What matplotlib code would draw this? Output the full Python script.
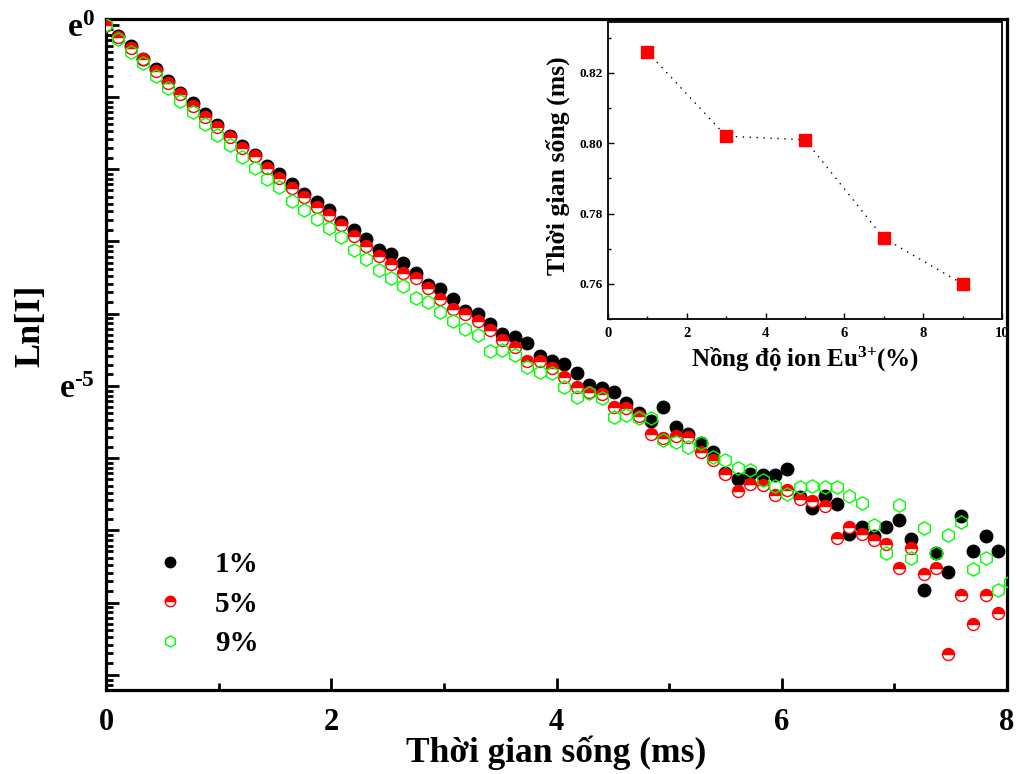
import numpy as np
import matplotlib
matplotlib.use("Agg")
import matplotlib.pyplot as plt
from matplotlib.ticker import FixedLocator, FuncFormatter, NullFormatter, MultipleLocator
from matplotlib.lines import Line2D

plt.rcParams["font.family"] = ["Liberation Serif", "DejaVu Serif"]
plt.rcParams["font.weight"] = "bold"
plt.rcParams["mathtext.fontset"] = "custom"
plt.rcParams["mathtext.rm"] = "Liberation Serif:bold"
plt.rcParams["mathtext.it"] = "Liberation Serif:bold"
plt.rcParams["mathtext.bf"] = "Liberation Serif:bold"

# Decay curves, ln(I) sampled every 0.11 ms
dt = 0.11
ln_eu1 = [0.00, -0.15, -0.30, -0.47, -0.61, -0.78, -0.94, -1.08, -1.24, -1.39,
          -1.54, -1.68, -1.80, -1.95, -2.07, -2.20, -2.34, -2.46, -2.57, -2.73,
          -2.84, -2.97, -3.12, -3.18, -3.30, -3.43, -3.60, -3.66, -3.80, -3.96,
          -4.00, -4.14, -4.28, -4.32, -4.41, -4.59, -4.65, -4.70, -4.82, -4.99,
          -5.03, -5.08, -5.23, -5.37, -5.49, -5.29, -5.57, -5.67, -5.79, -5.91,
          -6.20, -6.29, -6.22, -6.24, -6.23, -6.15, -6.54, -6.69, -6.53, -6.63,
          -7.05, -6.95, -7.08, -6.95, -6.85, -7.12, -7.82, -7.31, -7.58, -6.80,
          -7.28, -7.08, -7.28]
ln_eu5 = [0.00, -0.17, -0.32, -0.48, -0.64, -0.80, -0.96, -1.12, -1.27, -1.41,
          -1.56, -1.70, -1.82, -1.98, -2.12, -2.26, -2.39, -2.52, -2.63, -2.77,
          -2.92, -3.06, -3.20, -3.31, -3.44, -3.51, -3.65, -3.79, -3.93, -4.00,
          -4.10, -4.22, -4.36, -4.46, -4.65, -4.66, -4.75, -4.87, -5.01, -5.08,
          -5.11, -5.29, -5.31, -5.42, -5.66, -5.72, -5.69, -5.71, -5.91, -6.03,
          -6.22, -6.45, -6.36, -6.37, -6.51, -6.44, -6.56, -6.59, -6.66, -7.10,
          -6.95, -7.05, -7.13, -7.19, -7.52, -7.25, -7.60, -7.52, -8.71, -7.89,
          -8.30, -7.89, -8.15]
ln_eu9 = [0.00, -0.19, -0.37, -0.53, -0.71, -0.88, -1.05, -1.21, -1.37, -1.52,
          -1.67, -1.83, -1.98, -2.14, -2.25, -2.44, -2.56, -2.69, -2.82, -2.94,
          -3.12, -3.24, -3.39, -3.50, -3.61, -3.78, -3.84, -3.98, -4.10, -4.21,
          -4.29, -4.51, -4.50, -4.57, -4.74, -4.81, -4.82, -5.01, -5.15, -5.10,
          -5.17, -5.43, -5.40, -5.45, -5.44, -5.75, -5.78, -5.84, -5.79, -5.98,
          -6.02, -6.14, -6.16, -6.30, -6.39, -6.49, -6.40, -6.39, -6.40, -6.40,
          -6.52, -6.62, -6.93, -7.31, -6.65, -7.38, -6.97, -7.31, -7.07, -6.88,
          -7.53, -7.38, -7.82, -7.71]
series_labels = ["1%", "5%", "9%"]

# Lifetime versus Eu3+ concentration
eu_conc = [1, 3, 5, 7, 9]
lifetime_ms = [0.826, 0.802, 0.801, 0.773, 0.760]

W, H = 1016, 774
fig = plt.figure(figsize=(W / 100, H / 100), dpi=100)
ax = fig.add_axes([106 / W, 1 - 690 / H, 901 / W, 671 / H])

def times(values):
    return dt * np.arange(len(values))

ax.plot(times(ln_eu1), np.exp(ln_eu1), linestyle="none", marker="o", ms=9.2,
        mfc="black", mec="black", mew=0.8, zorder=3)
ax.plot(times(ln_eu5), np.exp(ln_eu5), linestyle="none", marker="o", ms=8.6,
        fillstyle="top", mfc="#ff0000", mfcalt="white", mec="#ff0000", mew=1.0, zorder=4)
ax.plot(times(ln_eu9), np.exp(ln_eu9), linestyle="none", marker="h", ms=9.6,
        mfc="none", mec="#00ff00", mew=1.0, zorder=5)

ax.set_yscale("log", base=np.e)
ax.set_xlim(0, 8)
ax.set_ylim(np.exp(-9.21), np.exp(0.08))

exps = np.arange(-9, 1)
ax.yaxis.set_major_locator(FixedLocator(np.exp(exps)))
subs = 1 + (np.e - 1) * np.arange(1, 10) / 10
ax.yaxis.set_minor_locator(FixedLocator(np.concatenate([np.exp(n) * subs for n in range(-10, 1)])))

def e_label(val, pos):
    n = int(round(np.log(val)))
    if n == 0:
        return r"$\mathrm{e}^{0}$"
    if n == -5:
        return r"$\mathrm{e}^{\text{-5}}$"
    return ""

ax.yaxis.set_major_formatter(FuncFormatter(e_label))
ax.yaxis.set_minor_formatter(NullFormatter())
ax.xaxis.set_major_locator(MultipleLocator(2))
ax.xaxis.set_minor_locator(MultipleLocator(1))
ax.xaxis.set_major_formatter(FuncFormatter(lambda v, p: f"{v:.0f}"))

ax.tick_params(which="both", direction="in", top=False, right=False, width=2.0)
ax.tick_params(which="major", length=9)
ax.tick_params(which="minor", length=5)
ax.tick_params(axis="x", which="major", labelsize=22, pad=13)
ax.tick_params(axis="y", which="major", labelsize=24, pad=8)
for s in ax.spines.values():
    s.set_linewidth(2.3)

ax.set_xlabel("Thời gian sống (ms)", fontsize=25.5, fontweight="bold")
ax.xaxis.set_label_coords(0.5, -0.068)
ax.xaxis.label.set_verticalalignment("top")
ax.set_ylabel("Ln[I]", fontsize=26, fontweight="bold")
ax.yaxis.set_label_coords(-0.0655, 0.5425)

handles = [
    Line2D([], [], linestyle="none", marker="o", ms=7.5, mfc="black", mec="black"),
    Line2D([], [], linestyle="none", marker="o", ms=7.5, fillstyle="top", mfc="#ff0000",
           mfcalt="white", mec="#ff0000", mew=1.0),
    Line2D([], [], linestyle="none", marker="h", ms=8, mfc="none", mec="#00ff00", mew=1.0),
]
ax.legend(handles, series_labels, loc="upper left", bbox_to_anchor=(155 / W, 1 - 551 / H),
          bbox_transform=fig.transFigure, frameon=False, fontsize=21, handlelength=1.0,
          handletextpad=1.05, labelspacing=0.43, borderpad=0, borderaxespad=0)

# Inset: lifetime vs concentration
axi = fig.add_axes([608 / W, 1 - 319 / H, 394 / W, 297 / H])
axi.plot(eu_conc, lifetime_ms, linestyle=(0, (1, 4)), color="black", lw=1.0,
         marker="s", ms=8.8, mfc="#ff0000", mec="#ff0000")
axi.set_xlim(0, 10)
axi.set_ylim(0.75, 0.8345)
axi.xaxis.set_major_locator(MultipleLocator(2))
axi.xaxis.set_minor_locator(MultipleLocator(1))
axi.yaxis.set_major_locator(MultipleLocator(0.02))
axi.yaxis.set_minor_locator(MultipleLocator(0.01))
axi.xaxis.set_major_formatter(FuncFormatter(lambda v, p: f"{v:.0f}"))
axi.yaxis.set_major_formatter(FuncFormatter(lambda v, p: f"{v:.2f}"))
axi.tick_params(which="both", direction="in", top=False, right=False, width=1.0)
axi.tick_params(which="major", length=4.5)
axi.tick_params(which="minor", length=2.5)
axi.tick_params(axis="x", labelsize=10.5, pad=6)
axi.tick_params(axis="y", labelsize=9.5, pad=4)
for s in axi.spines.values():
    s.set_linewidth(1.3)
axi.set_xlabel(r"Nồng độ ion Eu$^{\text{3+}}$(%)", fontsize=18, fontweight="bold")
axi.xaxis.set_label_coords(0.5, -0.0875)
axi.xaxis.label.set_verticalalignment("top")
axi.set_ylabel("Thời gian sống (ms)", fontsize=18.5, fontweight="bold")
axi.yaxis.set_label_coords(-0.0964, 0.515)

fig.savefig("out.png", dpi=100)
